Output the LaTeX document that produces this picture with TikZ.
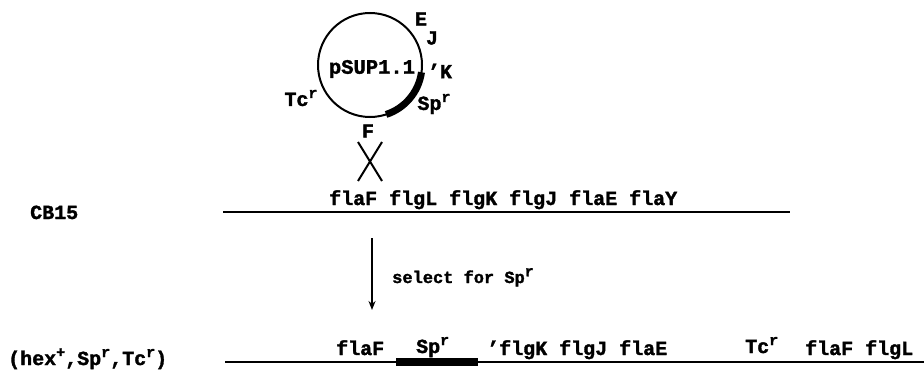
\documentclass[tikz,border=0pt]{standalone}
\usepackage{fontspec}
\setmainfont{Liberation Mono}[BoldFeatures={FakeBold=1.6}]
\usetikzlibrary{arrows.meta}
\newcommand{\supr}[1]{\raisebox{0.75ex}{\fontsize{15}{15}\selectfont #1}}
\begin{document}
\begin{tikzpicture}[x=1pt,y=-1pt,
  lbl/.style={font=\fontsize{20}{22}\selectfont\bfseries, inner sep=0pt},
  slbl/.style={font=\fontsize{17}{19}\selectfont\bfseries, inner sep=0pt},
  dna/.style={line width=2.5pt},
  gene/.style={line width=8pt},
  thin/.style={line width=2pt}]
\useasboundingbox (0,0) rectangle (924,372);
% plasmid
\node[draw, circle, thin, minimum size=104pt, inner sep=0pt] (plasmid) at (370,65) {};
\node[lbl, font=\fontsize{20.5}{22}\selectfont\bfseries] (pname) at (372,69) {pSUP1.1};
\draw[line width=7pt] ([shift={(-8:52pt)}]plasmid.center) arc[start angle=-8, end angle=-72, radius=52pt];
\node[lbl] (lE) at (421,19) {E};
\node[lbl] (lJ) at (432,38) {J};
\node[lbl] (lK) at (440,71) {'K};
\node[lbl] (lSp) at (434,104) {Sp\supr{r}};
\node[lbl] (lTc) at (301,98) {Tc\supr{r}};
\node[lbl] (lF) at (368,131) {F};
% crossover
\coordinate (xa) at (358,142);
\coordinate (xb) at (382,181);
\coordinate (xc) at (382,142);
\coordinate (xd) at (358,181);
\draw[thin] (xa) -- (xb);
\draw[thin] (xc) -- (xd);
% CB15 chromosome
\node[lbl, anchor=base west] (cb) at (30,219) {CB15};
\coordinate (l1a) at (223,212);
\coordinate (l1b) at (790,212);
\draw[dna] (l1a) -- (l1b);
\node[lbl, anchor=base west] (genes1) at (329,205) {flaF flgL flgK flgJ flaE flaY};
% selection arrow
\coordinate (arTop) at (372,238);
\coordinate (arTip) at (372,310);
\draw[line width=1.6pt, -{Stealth[length=9pt,width=7pt]}] (arTop) -- (arTip);
\node[slbl, anchor=base west] (sel) at (392,283) {select for Sp\supr{r}};
% recombinant
\node[lbl, anchor=base west] (geno) at (8,365) {(hex\supr{+},Sp\supr{r},Tc\supr{r})};
\coordinate (l2a) at (225,362);
\coordinate (l2b) at (924,362);
\draw[dna] (l2a) -- (l2b);
\coordinate (ta) at (396,362);
\coordinate (tb) at (478,362);
\draw[gene] (ta) -- (tb);
\node[lbl, anchor=base west] (g2a) at (336,355) {flaF};
\node[lbl, anchor=base west] (g2b) at (416,353) {Sp\supr{r}};
\node[lbl, anchor=base west] (g2c) at (487,355) {'flgK flgJ flaE};
\node[lbl, anchor=base west] (g2d) at (745,353) {Tc\supr{r}};
\node[lbl, anchor=base west] (g2e) at (805,355) {flaF flgL};
\end{tikzpicture}
\end{document}
